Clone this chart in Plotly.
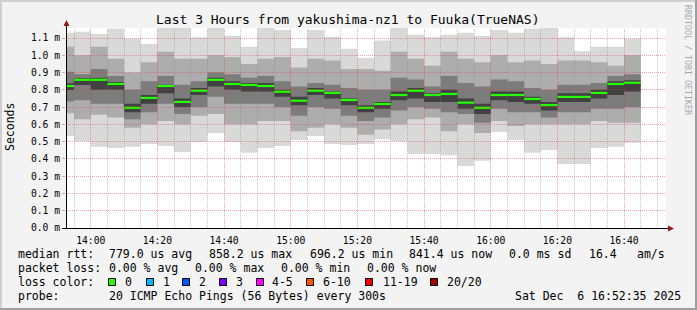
import pandas as pd
import plotly.graph_objects as go

# ---------------- data (milliseconds) ----------------
bar_start = pd.date_range("2025-12-06 13:50:00", periods=35, freq="5min")
median = [0.822, 0.858, 0.858, 0.834, 0.696, 0.753, 0.822, 0.730, 0.795, 0.858,
          0.834, 0.828, 0.822, 0.789, 0.737, 0.795, 0.782, 0.741, 0.696, 0.718,
          0.770, 0.795, 0.770, 0.776, 0.726, 0.696, 0.770, 0.770, 0.747, 0.712,
          0.759, 0.759, 0.782, 0.834, 0.841]
p20 = [1.130, 1.137, 1.123, 1.154, 1.096, 1.065, 1.180, 1.170, 1.104, 1.170,
       1.112, 1.050, 1.170, 1.146, 1.042, 1.146, 1.108, 1.038, 0.984, 1.085,
       1.170, 1.119, 1.104, 1.119, 1.131, 1.112, 1.146, 1.131, 1.154, 1.170,
       1.104, 1.023, 1.050, 1.050, 1.096]
p18 = [1.049, 1.00, 1.05, 0.98, 0.90, 0.96, 1.02, 0.98, 0.98, 1.00,
       0.99, 0.95, 0.98, 0.99, 0.93, 0.98, 0.97, 0.92, 0.92, 0.91,
       1.02, 0.98, 0.94, 1.02, 0.98, 0.96, 1.00, 0.96, 0.97, 0.95,
       0.97, 0.97, 0.96, 0.94, 1.00]
p15 = [0.905, 0.89, 0.92, 0.88, 0.80, 0.85, 0.88, 0.83, 0.85, 0.90,
       0.89, 0.87, 0.88, 0.85, 0.82, 0.84, 0.83, 0.81, 0.80, 0.80,
       0.87, 0.86, 0.82, 0.88, 0.84, 0.82, 0.86, 0.85, 0.81, 0.80,
       0.83, 0.83, 0.84, 0.88, 0.89]
p12 = [0.838, 0.867, 0.87, 0.845, 0.72, 0.77, 0.83, 0.75, 0.81, 0.87,
       0.85, 0.84, 0.84, 0.80, 0.76, 0.81, 0.79, 0.75, 0.71, 0.73,
       0.79, 0.81, 0.78, 0.80, 0.75, 0.72, 0.79, 0.79, 0.76, 0.73,
       0.78, 0.78, 0.80, 0.85, 0.855]
p9 = [0.799, 0.828, 0.80, 0.80, 0.67, 0.72, 0.78, 0.70, 0.77, 0.82,
      0.80, 0.79, 0.79, 0.76, 0.71, 0.77, 0.75, 0.71, 0.67, 0.69,
      0.74, 0.75, 0.73, 0.73, 0.69, 0.66, 0.74, 0.73, 0.72, 0.68,
      0.73, 0.73, 0.75, 0.77, 0.79]
p6 = [0.732, 0.74, 0.72, 0.72, 0.63, 0.67, 0.72, 0.66, 0.70, 0.76,
      0.72, 0.72, 0.72, 0.70, 0.65, 0.70, 0.69, 0.65, 0.62, 0.64,
      0.68, 0.70, 0.69, 0.67, 0.66, 0.61, 0.69, 0.67, 0.67, 0.64,
      0.67, 0.67, 0.69, 0.69, 0.70]
p3 = [0.664, 0.63, 0.655, 0.64, 0.58, 0.60, 0.62, 0.60, 0.65, 0.66,
      0.60, 0.60, 0.62, 0.62, 0.56, 0.58, 0.60, 0.58, 0.54, 0.57,
      0.60, 0.63, 0.64, 0.56, 0.60, 0.55, 0.62, 0.59, 0.60, 0.60,
      0.60, 0.60, 0.62, 0.61, 0.61]
p1 = [0.533, 0.502, 0.471, 0.463, 0.471, 0.486, 0.475, 0.440, 0.498, 0.548,
      0.498, 0.436, 0.463, 0.475, 0.510, 0.533, 0.486, 0.480, 0.486, 0.514,
      0.502, 0.428, 0.428, 0.421, 0.359, 0.390, 0.556, 0.510, 0.436, 0.452,
      0.371, 0.371, 0.463, 0.471, 0.494]

y_ticks = [0.0, 0.1, 0.2, 0.3, 0.4, 0.5, 0.6, 0.7, 0.8, 0.9, 1.0, 1.1]
y_ticktext = ["0.0 m", "0.1 m", "0.2 m", "0.3 m", "0.4 m", "0.5 m", "0.6 m",
              "0.7 m", "0.8 m", "0.9 m", "1.0 m", "1.1 m"]
title = "Last 3 Hours from yakushima-nz1 to Fuuka(TrueNAS)"
loss_labels = ["0", "1", "2", "3", "4-5", "6-10", "11-19", "20/20"]
loss_colors = ["#26ff00", "#00b8ff", "#0059ff", "#7e00ff", "#ff00ff", "#ff5500", "#ff0000", "#a10000"]

# ---------------- layout geometry ----------------
W, H = 697, 310
L, R, T, B = 66, 31, 28, 82
PW, PH = W - L - R, H - T - B
t_end = pd.Timestamp("2025-12-06 16:52:35")
t_start = t_end - pd.Timedelta(hours=3)
Y_MAX = 1.158
MONO = "DejaVu Sans Mono"
span = (t_end - t_start).total_seconds()


def px(x):
    return (x - L) / PW


def py(y):
    return (H - B - y) / PH


def snap(v):
    return round(v - 0.5) + 0.5


step = pd.Timedelta(minutes=5)
bar_end = [s + step for s in bar_start]

fig = go.Figure()
bands = [(p1, p20, "#d9d9d9"), (p3, p18, "#adadad"), (p6, p15, "#7c7c7c"), (p9, p12, "#414141")]
for lo, hi, col in bands:
    xs, ys = [], []
    for s, e, h in zip(bar_start, bar_end, hi):
        xs += [s, e]
        ys += [h, h]
    for s, e, l in zip(reversed(list(bar_start)), reversed(bar_end), reversed(lo)):
        xs += [e, s]
        ys += [l, l]
    fig.add_trace(go.Scatter(x=xs, y=ys, mode="lines", fill="toself", fillcolor=col,
                             line=dict(width=0, color=col), hoverinfo="skip", showlegend=False))

# thin dark step line connecting medians
fig.add_trace(go.Scatter(x=list(bar_start) + [bar_end[-1]], y=median + [median[-1]],
                         mode="lines", line=dict(color="#202020", width=1, shape="hv", dash="1px,1px"),
                         hoverinfo="skip", showlegend=False))
# green median segments
gx, gy = [], []
for s, e, m in zip(bar_start, bar_end, median):
    gx += [s, e, None]
    gy += [m, m, None]
fig.add_trace(go.Scatter(x=gx, y=gy, mode="lines", line=dict(color="#26ff00", width=2.2),
                         hoverinfo="skip", showlegend=False))

# grid lines drawn above the smoke (as in rrdtool)
minor_x, minor_y, major_x, major_y = [], [], [], []
t = pd.Timestamp("2025-12-06 13:55:00")
while t <= t_end:
    xp = snap(L + (t - t_start).total_seconds() / span * PW)
    tt = t_start + pd.Timedelta(seconds=(xp - L) / PW * span)
    if t.minute % 20 == 0:
        major_x += [tt, tt, None]
        major_y += [0, Y_MAX, None]
    else:
        minor_x += [tt, tt, None]
        minor_y += [0, Y_MAX, None]
    t += step
for v in y_ticks[1:]:
    yp = snap(H - B - v / Y_MAX * PH)
    vv = (H - B - yp) / PH * Y_MAX
    major_x += [t_start, t_end, None]
    major_y += [vv, vv, None]
fig.add_trace(go.Scatter(x=minor_x, y=minor_y, mode="lines", hoverinfo="skip", showlegend=False,
                         line=dict(color="rgba(128,128,128,0.42)", width=1, dash="1px,1px")))
fig.add_trace(go.Scatter(x=major_x, y=major_y, mode="lines", hoverinfo="skip", showlegend=False,
                         line=dict(color="rgba(229,40,40,0.42)", width=1, dash="1px,1px")))

shapes = []
# axes lines and arrows
shapes.append(dict(type="line", xref="paper", yref="paper", x0=px(66.5), x1=px(66.5), y0=py(229), y1=py(24),
                   line=dict(color="#000000", width=1), layer="above"))
shapes.append(dict(type="line", xref="paper", yref="paper", x0=px(62), x1=px(670), y0=py(228.5), y1=py(228.5),
                   line=dict(color="#000000", width=1), layer="above"))
shapes.append(dict(type="path", xref="paper", yref="paper", layer="above",
                   path=f"M {px(63.5)} {py(26)} L {px(69.5)} {py(26)} L {px(66.5)} {py(20)} Z",
                   fillcolor="#8b1a1a", line=dict(width=0)))
shapes.append(dict(type="path", xref="paper", yref="paper", layer="above",
                   path=f"M {px(668)} {py(225.5)} L {px(668)} {py(231.5)} L {px(674)} {py(228.5)} Z",
                   fillcolor="#8b1a1a", line=dict(width=0)))
# frame
shapes.append(dict(type="rect", xref="paper", yref="paper", x0=px(0), x1=px(2), y0=py(H), y1=py(0),
                   fillcolor="#cfcfcf", line=dict(width=0)))
shapes.append(dict(type="rect", xref="paper", yref="paper", x0=px(0), x1=px(W), y0=py(2), y1=py(0),
                   fillcolor="#cfcfcf", line=dict(width=0)))
shapes.append(dict(type="rect", xref="paper", yref="paper", x0=px(W - 2), x1=px(W), y0=py(H), y1=py(0),
                   fillcolor="#9e9e9e", line=dict(width=0)))
shapes.append(dict(type="rect", xref="paper", yref="paper", x0=px(0), x1=px(W), y0=py(H), y1=py(H - 2),
                   fillcolor="#9e9e9e", line=dict(width=0)))
# loss colour boxes
box_x = [108.5, 146.5, 182.5, 219.5, 256.5, 306.5, 365.5, 430.5]
for bx, col in zip(box_x, loss_colors):
    shapes.append(dict(type="rect", xref="paper", yref="paper", x0=px(bx), x1=px(bx + 7),
                       y0=py(285.5), y1=py(278.5), fillcolor=col, line=dict(color="#000000", width=1)))

annotations = []


def txt(x, y, s, size=11.5, color="#000000", anchor="left", angle=0, font=MONO):
    annotations.append(dict(x=px(x), y=py(y), xref="paper", yref="paper", text=s.replace(" ", "\u00a0"),
                            showarrow=False, xanchor=anchor, yanchor="middle", textangle=angle,
                            font=dict(family=font, size=size, color=color)))


txt(347.5, 19, title, size=13, anchor="center")
txt(10, 127, "Seconds", size=11.5, anchor="center", angle=-90)
txt(688, 60, "RRDTOOL / TOBI OETIKER", size=8.3, color="#a8a8a8", anchor="center", angle=90)

r1, r2, r3, r4 = 254.3, 268.3, 282.3, 296.3
txt(16, r1, "median rtt:")
txt(107.3, r1, "779.0 us avg")
txt(207.3, r1, "858.2 us max")
txt(308.2, r1, "696.2 us min")
txt(407.3, r1, "841.4 us now")
txt(507.3, r1, "0.0 ms sd")
txt(586.7, r1, "16.4")
txt(635.3, r1, "am/s")
txt(16, r2, "packet loss:")
txt(107.3, r2, "0.00 % avg")
txt(193.3, r2, "0.00 % max")
txt(279.3, r2, "0.00 % min")
txt(365.3, r2, "0.00 % now")
txt(16, r3, "loss color:")
label_x = [123, 160.7, 197.3, 234, 270, 320.7, 380.7, 445.3]
for lx, lab in zip(label_x, loss_labels):
    txt(lx, r3, lab)
txt(16, r4, "probe:")
txt(107.3, r4, "20 ICMP Echo Pings (56 Bytes) every 300s")
txt(513.3, r4, "Sat Dec  6 16:52:35 2025")

fig.update_layout(
    width=W, height=H, margin=dict(l=L, r=R, t=T, b=B, pad=0),
    paper_bgcolor="#f3f3f3", plot_bgcolor="#ffffff",
    showlegend=False,
    shapes=shapes, annotations=annotations,
    xaxis=dict(range=[t_start, t_end], showgrid=False, zeroline=False, showline=False,
               tickmode="linear", tick0="2025-12-06 14:00:00", dtick=20 * 60 * 1000,
               tickformat="%H:%M", ticks="outside", ticklen=3, tickcolor="rgba(0,0,0,0)",
               tickfont=dict(family=MONO, size=9.7, color="#000000"), fixedrange=True),
    yaxis=dict(range=[0, Y_MAX], showgrid=False, zeroline=False, showline=False,
               tickmode="array", tickvals=y_ticks, ticktext=y_ticktext,
               ticks="outside", ticklen=3, tickcolor="#e8a0a0",
               tickfont=dict(family=MONO, size=9.7, color="#000000"), fixedrange=True),
)

fig.write_html("out.html", config={"displayModeBar": False})
